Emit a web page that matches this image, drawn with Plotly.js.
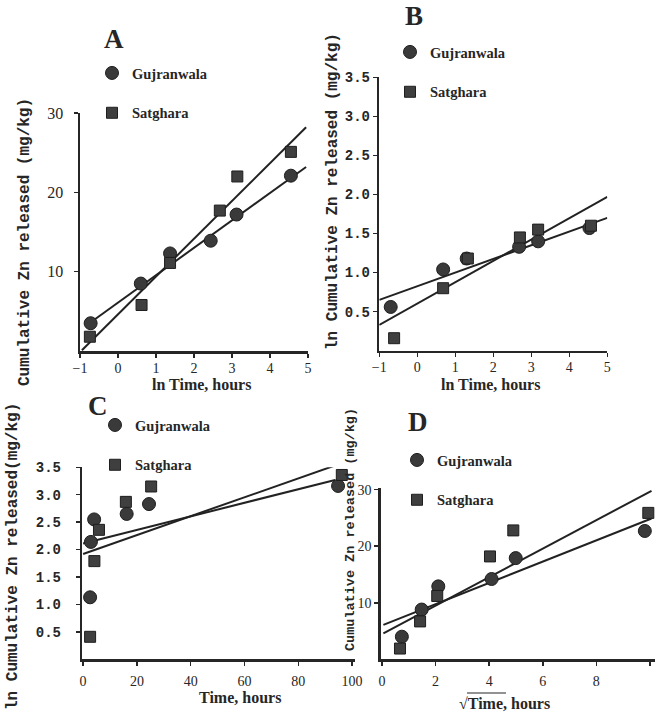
<!DOCTYPE html>
<html><head><meta charset="utf-8">
<script src="https://cdn.plot.ly/plotly-3.0.1.min.js"></script>
<style>html,body{margin:0;padding:0;background:#fff}</style>
</head><body><div id="chart" style="width:655px;height:718px"></div>
<script>
// ---- Panel A: ln time vs cumulative Zn ----
const aLnTimeGuj = [-0.72, 0.60, 1.37, 2.44, 3.12, 4.55];
const aZnGuj     = [3.5, 8.5, 12.3, 13.9, 17.2, 22.1];
const aLnTimeSat = [-0.74, 0.62, 1.37, 2.68, 3.14, 4.55];
const aZnSat     = [1.8, 5.8, 11.1, 17.7, 22.0, 25.1];
const aFitGujX = [-0.78, 4.95], aFitGujY = [3.4, 23.2];
const aFitSatX = [-0.95, 4.95], aFitSatY = [0.1, 28.2];

// ---- Panel B: ln time vs ln cumulative Zn ----
const bLnTimeGuj = [-0.70, 0.68, 1.30, 2.68, 3.18, 4.53];
const bLnZnGuj   = [0.56, 1.04, 1.18, 1.33, 1.40, 1.57];
const bLnTimeSat = [-0.61, 0.68, 1.33, 2.70, 3.18, 4.57];
const bLnZnSat   = [0.16, 0.80, 1.18, 1.45, 1.55, 1.60];
const bFitGujX = [-1, 5], bFitGujY = [0.65, 1.70];
const bFitSatX = [-1, 5], bFitSatY = [0.33, 1.97];

// ---- Panel C: time vs ln cumulative Zn ----
const cTimeGuj = [2.6, 2.9, 4.1, 16.2, 24.5, 94.8];
const cLnZnGuj = [1.13, 2.14, 2.55, 2.65, 2.83, 3.16];
const cTimeSat = [2.6, 4.2, 5.9, 15.9, 25.3, 96.2];
const cLnZnSat = [0.41, 1.79, 2.36, 2.87, 3.15, 3.36];
const cFitGujX = [0, 93.7], cFitGujY = [2.11, 3.27];
const cFitSatX = [0, 99.3], cFitSatY = [1.92, 3.63];

// ---- Panel D: sqrt time vs cumulative Zn ----
const dSqrtGuj = [0.74, 1.48, 2.10, 4.09, 4.99, 9.81];
const dZnGuj   = [4.0, 8.8, 12.9, 14.2, 17.9, 22.7];
const dSqrtSat = [0.67, 1.42, 2.06, 4.03, 4.90, 9.94];
const dZnSat   = [1.9, 6.7, 11.2, 18.2, 22.8, 25.9];
const dFitGujX = [0.05, 10.06], dFitGujY = [6.1, 24.9];
const dFitSatX = [0.05, 10.06], dFitSatY = [4.6, 29.8];

const seriesNames = ['Gujranwala', 'Satghara'];
const panelLetters = ['A', 'B', 'C', 'D'];

const W = 655, H = 718;
const px = v => v / W;
const py = v => 1 - v / H;

const ink = '#262626';
const circleMarker = {symbol: 'circle', size: 13, color: '#3a3a3a', line: {color: '#1e1e1e', width: 1}};
const squareMarker = {symbol: 'square', size: 11, color: '#3f3f3f', line: {color: '#1e1e1e', width: 1}};
const fitLine = {color: '#222', width: 2};

function pts(x, y, name, marker, xa, ya, lg, group) {
  return {x, y, name, type: 'scatter', mode: 'markers', marker, xaxis: xa, yaxis: ya,
          legend: lg, legendgroup: group, showlegend: true};
}
function fit(x, y, xa, ya) {
  return {x, y, type: 'scatter', mode: 'lines', line: fitLine, xaxis: xa, yaxis: ya,
          showlegend: false, hoverinfo: 'skip'};
}

const data = [
  fit(aFitGujX, aFitGujY, 'x', 'y'), fit(aFitSatX, aFitSatY, 'x', 'y'),
  pts(aLnTimeGuj, aZnGuj, seriesNames[0], circleMarker, 'x', 'y', 'legend', 'a1'),
  pts(aLnTimeSat, aZnSat, seriesNames[1], squareMarker, 'x', 'y', 'legend', 'a2'),

  fit(bFitGujX, bFitGujY, 'x2', 'y2'), fit(bFitSatX, bFitSatY, 'x2', 'y2'),
  pts(bLnTimeGuj, bLnZnGuj, seriesNames[0], circleMarker, 'x2', 'y2', 'legend2', 'b1'),
  pts(bLnTimeSat, bLnZnSat, seriesNames[1], squareMarker, 'x2', 'y2', 'legend2', 'b2'),

  fit(cFitGujX, cFitGujY, 'x3', 'y3'), fit(cFitSatX, cFitSatY, 'x3', 'y3'),
  pts(cTimeGuj, cLnZnGuj, seriesNames[0], circleMarker, 'x3', 'y3', 'legend3', 'c1'),
  pts(cTimeSat, cLnZnSat, seriesNames[1], squareMarker, 'x3', 'y3', 'legend3', 'c2'),

  fit(dFitGujX, dFitGujY, 'x4', 'y4'), fit(dFitSatX, dFitSatY, 'x4', 'y4'),
  pts(dSqrtGuj, dZnGuj, seriesNames[0], circleMarker, 'x4', 'y4', 'legend4', 'd1'),
  pts(dSqrtSat, dZnSat, seriesNames[1], squareMarker, 'x4', 'y4', 'legend4', 'd2'),
];

const serif = 'Liberation Serif, Times New Roman, serif';
const mono = 'Liberation Mono, Courier New, monospace';

function ax(extra) {
  return Object.assign({
    showline: true, linewidth: 2.5, linecolor: ink, showgrid: false, zeroline: false,
    ticks: 'outside', ticklen: 4, tickwidth: 1.5, tickcolor: ink,
    tickfont: {family: serif, size: 14, color: ink}, fixedrange: true
  }, extra);
}

function legendAt(x, y) {
  return {x: px(x), y: py(y), xanchor: 'left', yanchor: 'top', bgcolor: 'rgba(0,0,0,0)',
          borderwidth: 0, tracegroupgap: 18, itemclick: false, itemdoubleclick: false,
          font: {family: serif, size: 14.5, color: ink, weight: 'bold'}};
}

function label(text, x, y, size, font, angle, weight) {
  return {text, x: px(x), y: py(y), xref: 'paper', yref: 'paper', showarrow: false,
          xanchor: 'center', yanchor: 'middle', textangle: angle || 0,
          font: {family: font, size, color: ink, weight: weight || 'normal'}};
}

const layout = {
  width: W, height: H, autosize: false,
  margin: {l: 0, r: 0, t: 0, b: 0},
  paper_bgcolor: '#fff', plot_bgcolor: 'rgba(0,0,0,0)',
  xaxis:  ax({domain: [px(80), px(308)], range: [-1, 5], dtick: 1, anchor: 'y', ticklabelstandoff: -1}),
  yaxis:  ax({domain: [py(351), py(113)], range: [0, 30], tickvals: [10, 20, 30], anchor: 'x', ticklabelstandoff: 7, tickfont: {family: serif, size: 16, color: ink}}),
  xaxis2: ax({domain: [px(379.3), px(607.3)], range: [-1, 5], dtick: 1, anchor: 'y2', ticklabelstandoff: -2}),
  yaxis2: ax({domain: [py(350.7), py(77.3)], range: [0, 3.5], tickvals: [0.5, 1, 1.5, 2, 2.5, 3, 3.5], tickformat: '.1f', anchor: 'x2', tickfont: {family: mono, size: 14, color: ink, weight: 'bold'}}),
  xaxis3: ax({domain: [px(82.3), px(355)], range: [-0.3, 101.1], tickvals: [0, 20, 40, 60, 80, 100], anchor: 'y3', ticklabelstandoff: 3}),
  yaxis3: ax({domain: [py(659.3), py(467.3)], range: [0, 3.5], tickvals: [0.5, 1, 1.5, 2, 2.5, 3, 3.5], tickformat: '.1f', anchor: 'x3', ticklabelstandoff: 12, tickfont: {family: mono, size: 14, color: ink, weight: 'bold'}}),
  xaxis4: ax({domain: [px(380.7), px(655)], range: [-0.05, 10.19], tickvals: [0, 2, 4, 6, 8, 10], anchor: 'y4', ticklabelstandoff: 3}),
  yaxis4: ax({domain: [py(659.3), py(488)], range: [0, 30.3], tickvals: [10, 20, 30], anchor: 'x4', ticklabelstandoff: 0}),
  legend:  legendAt(92, 57),
  legend2: legendAt(390, 36),
  legend3: legendAt(95, 409),
  legend4: legendAt(397, 444),
  annotations: [
    label(panelLetters[0], 114, 39, 27, serif, 0, 'bold'),
    label(panelLetters[1], 414, 16, 27, serif, 0, 'bold'),
    label(panelLetters[2], 98, 406, 27, serif, 0, 'bold'),
    label(panelLetters[3], 418, 422, 27, serif, 0, 'bold'),
    label('Cumulative Zn released (mg/kg)', 25, 242, 16, mono, -90, 'bold'),
    label('ln Cumulative Zn released (mg/kg)', 333, 192, 16, mono, -90, 'bold'),
    label('ln Cumulative Zn released(mg/kg)', 13, 557, 16, mono, -90, 'bold'),
    label('Cumulative Zn released (mg/kg)', 350, 530, 13.5, mono, -90, 'bold'),
    label('ln Time, hours', 201, 384, 16, serif, 0, 'bold'),
    label('ln Time, hours', 490, 384, 16, serif, 0, 'bold'),
    label('Time, hours', 240, 697, 16, serif, 0, 'bold'),
    label('√Time, hours', 504, 703, 16, serif, 0, 'bold'),
  ],
  shapes: [
    {type: 'line', xref: 'paper', yref: 'paper', x0: px(467), x1: px(506), y0: py(693), y1: py(693),
     line: {color: ink, width: 1.2}}
  ]
};

Plotly.newPlot('chart', data, layout, {displayModeBar: false, staticPlot: true});
</script>
</body></html>
